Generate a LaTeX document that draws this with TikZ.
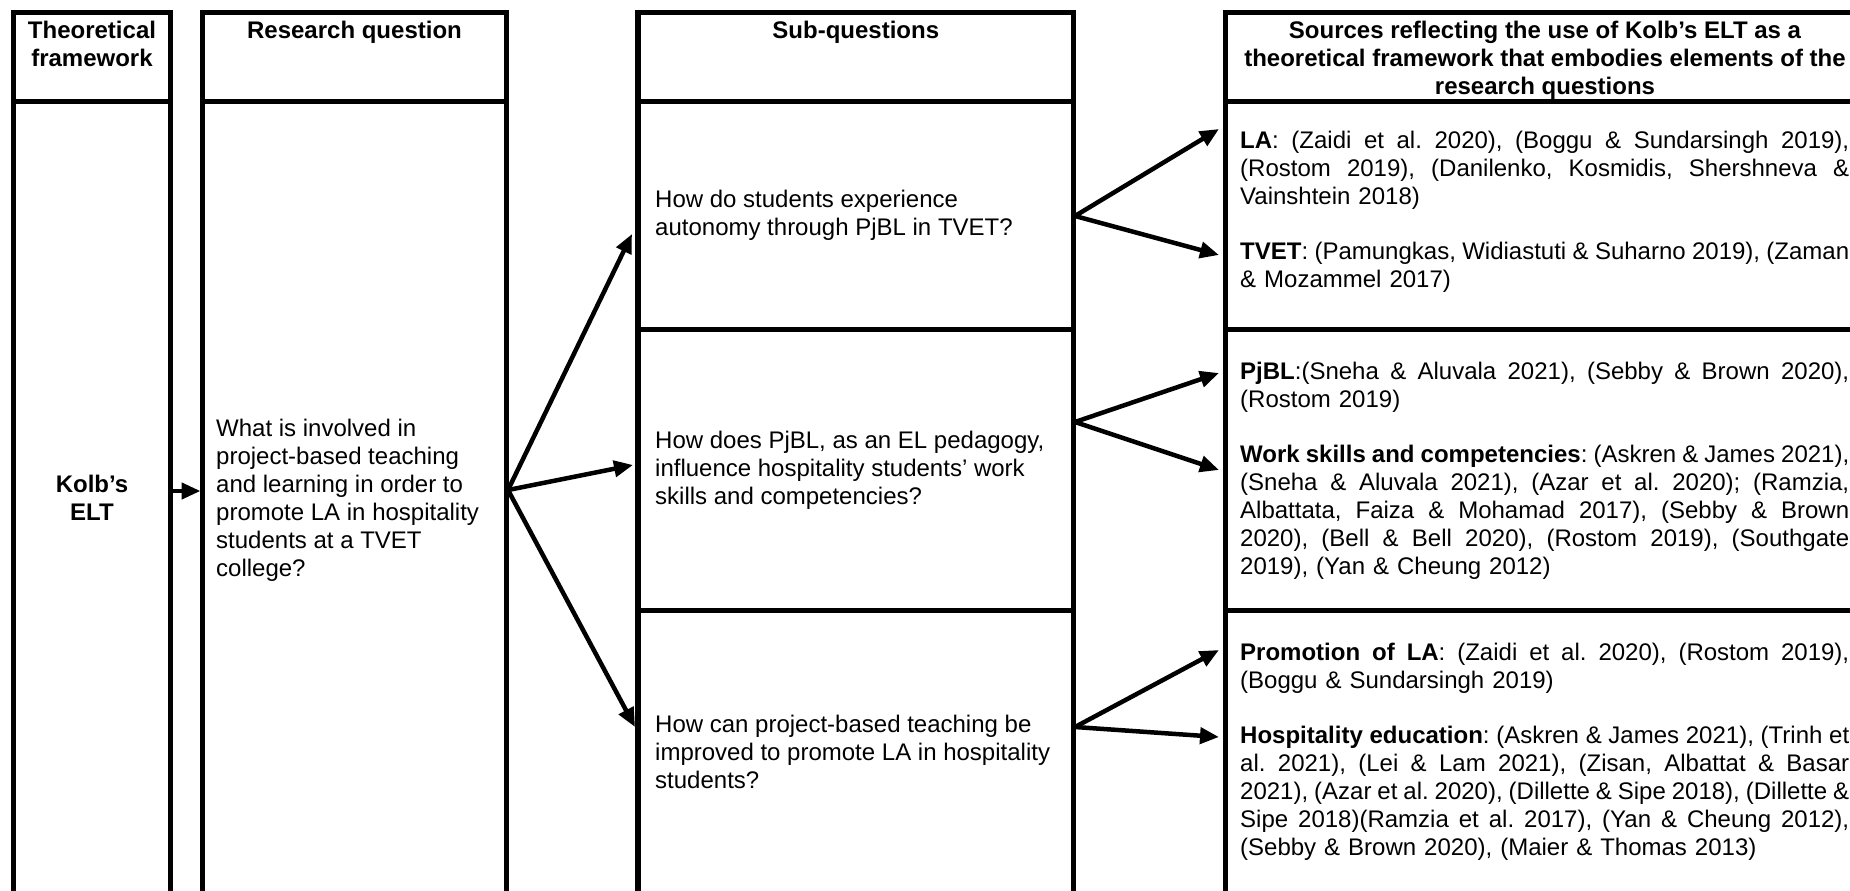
\documentclass[tikz,border=0pt]{standalone}
\usepackage{fontspec}
\setmainfont{Liberation Sans}
\usetikzlibrary{arrows.meta}

% width of the justified source lists in the right-hand column
\newlength{\srcw}
\setlength{\srcw}{609bp}
% one fully justified line of a source list
\newcommand{\jline}[1]{\leavevmode\hbox to\srcw{\spaceskip=6.67bp plus 24bp minus 2.4bp\relax #1}}

\tikzset{
  cell/.style={draw, line width=5.5bp, rectangle, inner sep=0pt, outer sep=0pt, anchor=north west},
  hdr/.style={font=\bfseries, align=center, inner sep=0pt, anchor=north},
  qtext/.style={align=left, inner sep=0pt, anchor=west},
  srctext/.style={text width=\srcw, align=left, inner sep=0pt, anchor=west},
  conn/.style={line width=4.5bp, -{Triangle[length=19bp,width=16bp]}},
}

\begin{document}
\frenchspacing
\fontsize{24bp}{28bp}\selectfont
\begin{tikzpicture}[x=1bp, y=-1bp]
  \path[use as bounding box] (0,0) rectangle (1850,891);
  \clip (0,0) rectangle (1850,891);
  \fill[white] (0,0) rectangle (1850,891);

  % column 1: theoretical framework
  \node[cell, minimum width=157bp, minimum height=89bp]    (tf-head) at (13.5,12.5) {};
  \node[cell, minimum width=157bp, minimum height=792.5bp] (tf-body) at (13.5,101.5) {};

  % column 2: research question
  \node[cell, minimum width=304bp, minimum height=89bp]    (rq-head) at (202.5,12.5) {};
  \node[cell, minimum width=304bp, minimum height=792.5bp] (rq-body) at (202.5,101.5) {};

  % column 3: sub-questions
  \node[cell, minimum width=435.5bp, minimum height=89bp]  (sq-head) at (638,12.5) {};
  \node[cell, minimum width=435.5bp, minimum height=228bp] (sq-row1) at (638,101.5) {};
  \node[cell, minimum width=435.5bp, minimum height=281bp] (sq-row2) at (638,329.5) {};
  \node[cell, minimum width=435.5bp, minimum height=283.5bp] (sq-row3) at (638,610.5) {};

  % column 4: sources
  \node[cell, minimum width=639bp, minimum height=89bp]  (src-head) at (1225.5,12.5) {};
  \node[cell, minimum width=639bp, minimum height=228bp] (src-row1) at (1225.5,101.5) {};
  \node[cell, minimum width=639bp, minimum height=281bp] (src-row2) at (1225.5,329.5) {};
  \node[cell, minimum width=639bp, minimum height=283.5bp] (src-row3) at (1225.5,610.5) {};

  % headings
  \node[hdr] (tf-title)  at (92,18.5)     {\rule{0pt}{20bp}Theoretical\\framework};
  \node[hdr] (rq-title)  at (354.5,18.5)  {\rule{0pt}{20bp}Research question};
  \node[hdr] (sq-title)  at (855.75,18.5) {\rule{0pt}{20bp}Sub-questions};
  \node[hdr] (src-title) at (1545,18.5)   {\rule{0pt}{20bp}Sources reflecting the use of Kolb’s ELT as a\\theoretical framework that embodies elements of the\\research questions};

  % framework and research question
  \node[font=\bfseries, align=center, inner sep=0pt] (kolb) at (92,498) {Kolb’s\\ELT};
  \node[qtext] (rq-text) at (216,500) {What is involved in\\project-based teaching\\and learning in order to\\promote LA in hospitality\\students at a TVET\\college?};

  % sub-questions
  \node[qtext] (sq1-text) at (655,215.5) {How do students experience\\autonomy through PjBL in TVET?};
  \node[qtext] (sq2-text) at (655,470)   {How does PjBL, as an EL pedagogy,\\influence hospitality students’ work\\skills and competencies?};
  \node[qtext] (sq3-text) at (655,752)   {How can project-based teaching be\\improved to promote LA in hospitality\\students?};

  % sources
  \node[srctext] (src1-text) at (1240,212) {%
    \jline{\textbf{LA}: (Zaidi et al. 2020), (Boggu \& Sundarsingh 2019),}\\
    \jline{(Rostom 2019), (Danilenko, Kosmidis, Shershneva \&}\\
    Vainshtein 2018)\\[27bp]
    \jline{\textbf{TVET}: (Pamungkas, Widiastuti \& Suharno 2019), (Zaman}\\
    \& Mozammel 2017)};
  \node[srctext] (src2-text) at (1240,470.5) {%
    \jline{\textbf{PjBL}:(Sneha \& Aluvala 2021), (Sebby \& Brown 2020),}\\
    (Rostom 2019)\\[27bp]
    \jline{\textbf{Work skills and competencies}: (Askren \& James 2021),}\\
    \jline{(Sneha \& Aluvala 2021), (Azar et al. 2020); (Ramzia,}\\
    \jline{Albattata, Faiza \& Mohamad 2017), (Sebby \& Brown}\\
    \jline{2020), (Bell \& Bell 2020), (Rostom 2019), (Southgate}\\
    2019), (Yan \& Cheung 2012)};
  \node[srctext] (src3-text) at (1240,751.5) {%
    \jline{\textbf{Promotion of LA}: (Zaidi et al. 2020), (Rostom 2019),}\\
    (Boggu \& Sundarsingh 2019)\\[27bp]
    \jline{\textbf{Hospitality education}: (Askren \& James 2021), (Trinh et}\\
    \jline{al. 2021), (Lei \& Lam 2021), (Zisan, Albattat \& Basar}\\
    \jline{2021), (Azar et al. 2020), (Dillette \& Sipe 2018), (Dillette \&}\\
    \jline{Sipe 2018)(Ramzia et al. 2017), (Yan \& Cheung 2012),}\\
    (Sebby \& Brown 2020), (Maier \& Thomas 2013)};

  % connector ends on the cell borders
  \coordinate (kolb-out) at (172.5,491);
  \coordinate (rq-in)    at (200.5,491);
  \coordinate (rq-out)   at (508,490);
  \coordinate (sq1-in)   at (632,234);
  \coordinate (sq2-in)   at (633,465);
  \coordinate (sq3-in)   at (635,727);
  \coordinate (sq1-out)  at (1075,216);
  \coordinate (sq2-out)  at (1075,422);
  \coordinate (sq3-out)  at (1075,727);
  \coordinate (src1a-in) at (1219,129);
  \coordinate (src1b-in) at (1219,255);
  \coordinate (src2a-in) at (1219,373);
  \coordinate (src2b-in) at (1219,470);
  \coordinate (src3a-in) at (1219,650);
  \coordinate (src3b-in) at (1219,737);

  % connectors
  \draw[conn] (kolb-out) -- (rq-in);
  \draw[conn] (rq-out) -- (sq1-in);
  \draw[conn] (rq-out) -- (sq2-in);
  \draw[conn] (rq-out) -- (sq3-in);
  \draw[conn] (sq1-out) -- (src1a-in);
  \draw[conn] (sq1-out) -- (src1b-in);
  \draw[conn] (sq2-out) -- (src2a-in);
  \draw[conn] (sq2-out) -- (src2b-in);
  \draw[conn] (sq3-out) -- (src3a-in);
  \draw[conn] (sq3-out) -- (src3b-in);
\end{tikzpicture}
\end{document}
